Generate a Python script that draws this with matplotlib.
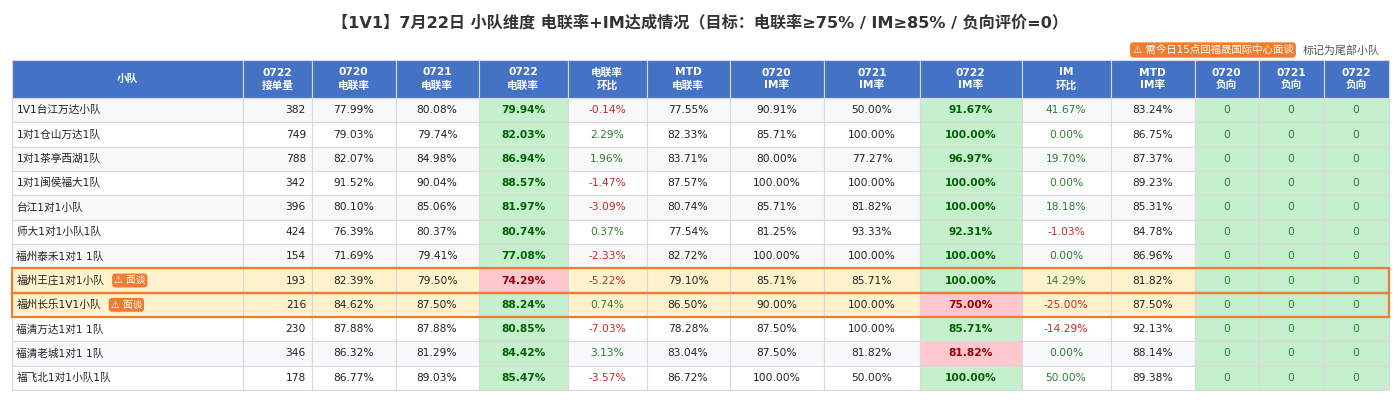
import matplotlib
matplotlib.use("Agg")
import matplotlib.pyplot as plt
from matplotlib.patches import Rectangle

plt.rcParams['font.family'] = ['DejaVu Sans', 'Noto Sans CJK SC']

# ---- data ----
teams = ["1V1台江万达小队", "1对1仓山万达1队", "1对1茶亭西湖1队", "1对1闽侯福大1队",
         "台江1对1小队", "师大1对1小队1队", "福州泰禾1对1 1队", "福州王庄1对1小队",
         "福州长乐1V1小队", "福清万达1对1 1队", "福清老城1对1 1队", "福飞北1对1小队1队"]
orders_0722 = [382, 749, 788, 342, 396, 424, 154, 193, 216, 230, 346, 178]
call_0720 = [77.99, 79.03, 82.07, 91.52, 80.10, 76.39, 71.69, 82.39, 84.62, 87.88, 86.32, 86.77]
call_0721 = [80.08, 79.74, 84.98, 90.04, 85.06, 80.37, 79.41, 79.50, 87.50, 87.88, 81.29, 89.03]
call_0722 = [79.94, 82.03, 86.94, 88.57, 81.97, 80.74, 77.08, 74.29, 88.24, 80.85, 84.42, 85.47]
call_dod = [-0.14, 2.29, 1.96, -1.47, -3.09, 0.37, -2.33, -5.22, 0.74, -7.03, 3.13, -3.57]
call_mtd = [77.55, 82.33, 83.71, 87.57, 80.74, 77.54, 82.72, 79.10, 86.50, 78.28, 83.04, 86.72]
im_0720 = [90.91, 85.71, 80.00, 100.00, 85.71, 81.25, 100.00, 85.71, 90.00, 87.50, 87.50, 100.00]
im_0721 = [50.00, 100.00, 77.27, 100.00, 81.82, 93.33, 100.00, 85.71, 100.00, 100.00, 81.82, 50.00]
im_0722 = [91.67, 100.00, 96.97, 100.00, 100.00, 92.31, 100.00, 100.00, 75.00, 85.71, 81.82, 100.00]
im_dod = [41.67, 0.00, 19.70, 0.00, 18.18, -1.03, 0.00, 14.29, -25.00, -14.29, 0.00, 50.00]
im_mtd = [83.24, 86.75, 87.37, 89.23, 85.31, 84.78, 86.96, 81.82, 87.50, 92.13, 88.14, 89.38]
neg_0720 = [0, 0, 0, 0, 0, 0, 0, 0, 0, 0, 0, 0]
neg_0721 = [0, 0, 0, 0, 0, 0, 0, 0, 0, 0, 0, 0]
neg_0722 = [0, 0, 0, 0, 0, 0, 0, 0, 0, 0, 0, 0]
flagged = ["福州王庄1对1小队", "福州长乐1V1小队"]

headers = ["小队", "0722\n接单量", "0720\n电联率", "0721\n电联率", "0722\n电联率", "电联率\n环比",
           "MTD\n电联率", "0720\nIM率", "0721\nIM率", "0722\nIM率", "IM\n环比", "MTD\nIM率",
           "0720\n负向", "0721\n负向", "0722\n负向"]

title = "【1V1】7月22日 小队维度 电联率+IM达成情况（目标：电联率≥75% / IM≥85% / 负向评价=0）"
CALL_TARGET = 75
IM_TARGET = 85

# ---- style ----
BLUE = "#4472C4"
ORANGE = "#ED7D31"
GRID = "#d9d9d9"
GREEN_BG, GREEN_FG = "#C6EFCE", "#006100"
RED_BG, RED_FG = "#FFC7CE", "#9C0006"
HL_BG = "#FFF2CC"
ALT_BG = "#f7f8fa"
TXT = "#222222"
UP, DOWN = "#2e7d32", "#c62828"
FS = 7.7

col_edges = [11.5, 243, 312, 395.5, 478.5, 568, 646.5, 729.5, 824, 920,
             1021.5, 1110.5, 1194.5, 1258.5, 1323.5, 1388.5]
head_top, head_bot, table_bot = 60, 98, 390
row_h = (table_bot - head_bot) / len(teams)

fig = plt.figure(figsize=(14, 4.2), dpi=100)
ax = fig.add_axes([0, 0, 1, 1])
ax.set_xlim(0, 1400)
ax.set_ylim(420, 0)
ax.axis('off')

ax.text(700, 22, title, ha='center', va='center', fontsize=11.6, fontweight='bold',
        color="#333333")

# note on the right
note = ax.text(1380, 50, "标记为尾部小队", ha='right', va='center', fontsize=7.9, color="#555555")
ax.annotate("⚠ 需今日15点回福晟国际中心面谈", xy=(0, 0.5), xycoords=note, xytext=(-7, 0),
            textcoords='offset points', ha='right', va='center', fontsize=7.5, color='white',
            bbox=dict(boxstyle='round,pad=0.25,rounding_size=0.35', fc=ORANGE, ec='none'))

# header
for j, h in enumerate(headers):
    x0, x1 = col_edges[j], col_edges[j + 1]
    ax.add_patch(Rectangle((x0, head_top), x1 - x0, head_bot - head_top,
                           fc=BLUE, ec=GRID, lw=0.8))
    ax.text((x0 + x1) / 2, (head_top + head_bot) / 2, h, ha='center', va='center',
            fontsize=FS, fontweight='bold', color='white', linespacing=1.35)


def pct(v):
    return f"{v:.2f}%"


for i, team in enumerate(teams):
    y0 = head_bot + i * row_h
    yc = y0 + row_h / 2
    hl = team in flagged
    base_bg = HL_BG if hl else (ALT_BG if i % 2 == 0 else "white")

    call_ok = call_0722[i] >= CALL_TARGET
    im_ok = im_0722[i] >= IM_TARGET
    cells = [
        (team, base_bg, TXT, 'normal', 'name'),
        (str(orders_0722[i]), base_bg, TXT, 'normal', 'right'),
        (pct(call_0720[i]), base_bg, TXT, 'normal', 'center'),
        (pct(call_0721[i]), base_bg, TXT, 'normal', 'center'),
        (pct(call_0722[i]), GREEN_BG if call_ok else RED_BG,
         GREEN_FG if call_ok else RED_FG, 'bold', 'center'),
        (pct(call_dod[i]), base_bg, UP if call_dod[i] >= 0 else DOWN, 'normal', 'center'),
        (pct(call_mtd[i]), base_bg, TXT, 'normal', 'center'),
        (pct(im_0720[i]), base_bg, TXT, 'normal', 'center'),
        (pct(im_0721[i]), base_bg, TXT, 'normal', 'center'),
        (pct(im_0722[i]), GREEN_BG if im_ok else RED_BG,
         GREEN_FG if im_ok else RED_FG, 'bold', 'center'),
        (pct(im_dod[i]), base_bg, UP if im_dod[i] >= 0 else DOWN, 'normal', 'center'),
        (pct(im_mtd[i]), base_bg, TXT, 'normal', 'center'),
    ]
    for n in (neg_0720[i], neg_0721[i], neg_0722[i]):
        ok = n == 0
        cells.append((str(n), GREEN_BG if ok else RED_BG, UP if ok else RED_FG, 'normal', 'center'))

    for j, (txt, bg, fg, wt, align) in enumerate(cells):
        x0, x1 = col_edges[j], col_edges[j + 1]
        ax.add_patch(Rectangle((x0, y0), x1 - x0, row_h, fc=bg, ec=GRID, lw=0.8))
        if align == 'name':
            t = ax.text(x0 + 5, yc, txt, ha='left', va='center', fontsize=FS, color=fg)
            if hl:
                ax.annotate("⚠ 面谈", xy=(1, 0.5), xycoords=t, xytext=(7, 0),
                            textcoords='offset points', ha='left', va='center',
                            fontsize=7, color='white',
                            bbox=dict(boxstyle='round,pad=0.2,rounding_size=0.35',
                                      fc=ORANGE, ec='none'))
        elif align == 'right':
            ax.text(x1 - 6, yc, txt, ha='right', va='center', fontsize=FS, color=fg, fontweight=wt)
        else:
            ax.text((x0 + x1) / 2, yc, txt, ha='center', va='center', fontsize=FS,
                    color=fg, fontweight=wt)

# orange outline around flagged rows
for i, team in enumerate(teams):
    if team in flagged:
        y0 = head_bot + i * row_h
        ax.add_patch(Rectangle((col_edges[0], y0), col_edges[-1] - col_edges[0], row_h,
                               fc='none', ec=ORANGE, lw=1.6, zorder=5))

fig.savefig("out.png", dpi=100)
